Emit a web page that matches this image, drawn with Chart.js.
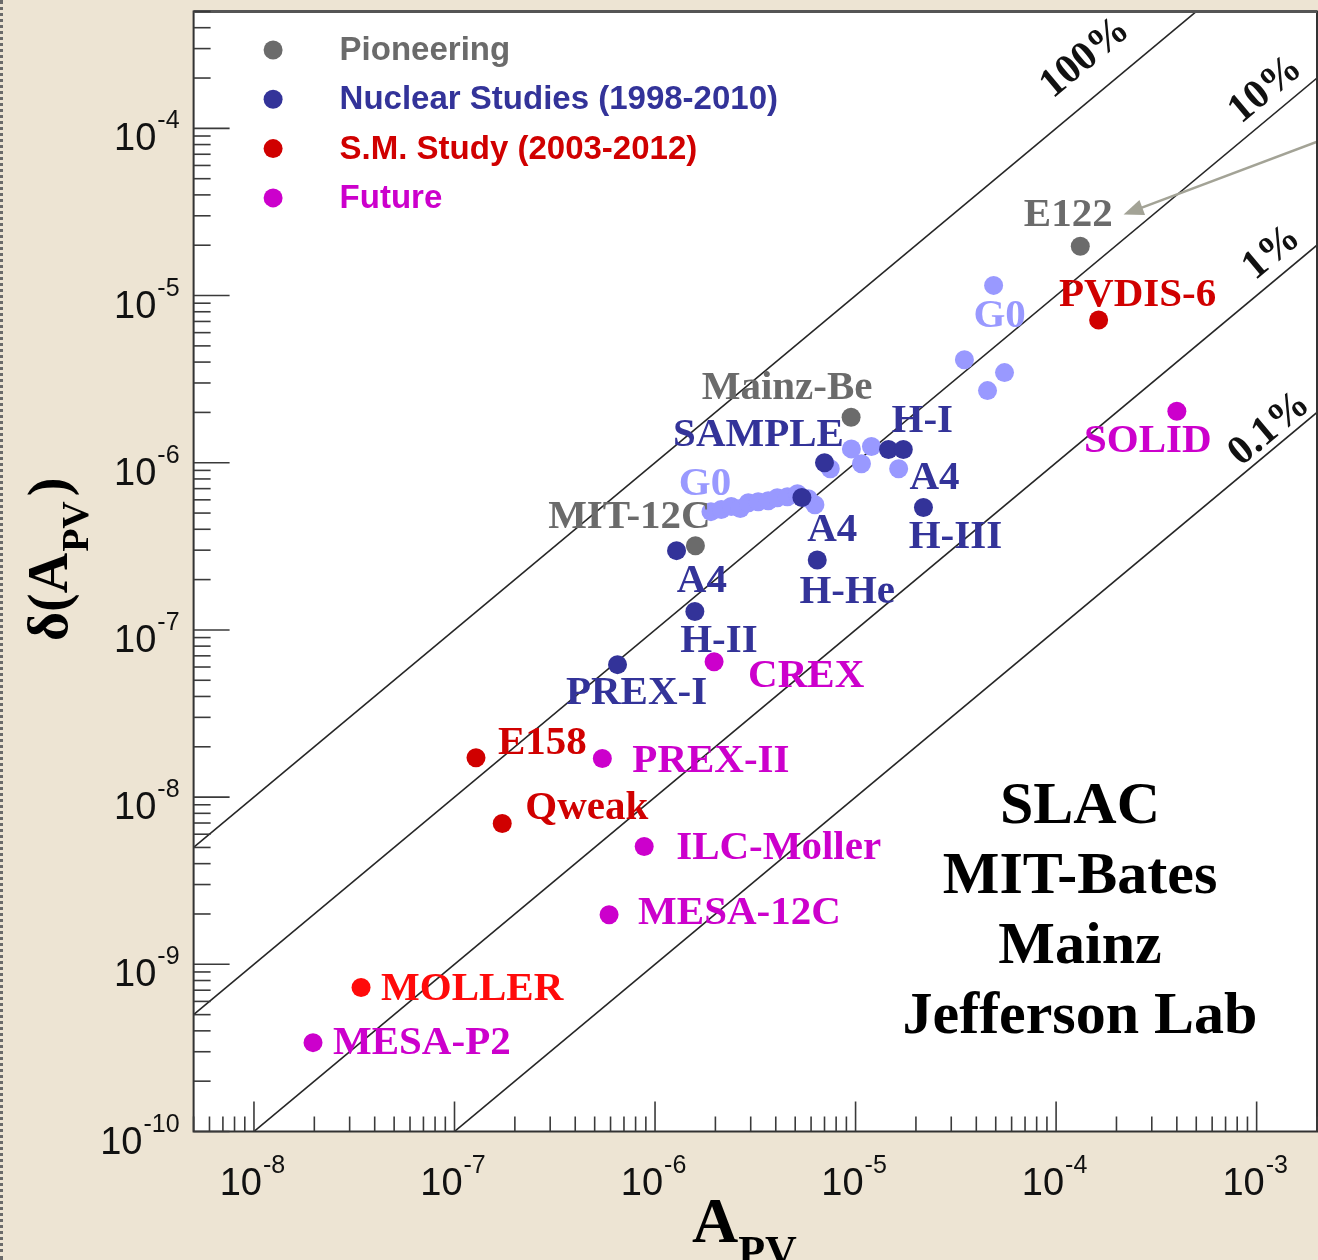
<!DOCTYPE html>
<html>
<head>
<meta charset="utf-8">
<title>Parity-violating asymmetry measurements</title>
<script src="https://cdn.jsdelivr.net/npm/chart.js@4.4.1/dist/chart.umd.min.js"></script>
<style>
  html, body { margin: 0; padding: 0; background: #ede4d3; }
  #wrap { position: relative; width: 1318px; height: 1260px; }
  #edge { position: absolute; left: 0; top: 0; width: 0; height: 1260px; border-left: 3px dotted #6a6a6a; }
  canvas { display: block; }
</style>
</head>
<body>
<div id="wrap">
  <canvas id="chart" width="1318" height="1260"></canvas>
  <div id="edge"></div>
</div>
<script>
// ===================== DATA =====================
const seriesLabels = ['Pioneering', 'Nuclear Studies (1998-2010)', 'S.M. Study (2003-2012)', 'Future'];

// Pioneering experiments: A_PV and delta(A_PV)
const pioneeringNames = ['E122', 'Mainz-Be', 'MIT-12C'];
const pioneeringApv   = [1.32e-4, 9.5e-6, 1.59e-6];
const pioneeringErr   = [1.97e-5, 1.87e-6, 3.19e-7];

// Nuclear studies (1998-2010)
const nuclearNames = ['SAMPLE', '', '', 'H-I', 'A4|H-III', 'A4|H-He', '', 'A4|H-II', 'PREX-I'];
const nuclearApv   = [7.0e-6, 5.4e-6, 1.46e-5, 1.73e-5, 2.18e-5, 6.44e-6, 1.28e-6, 1.58e-6, 6.5e-7];
const nuclearErr   = [1.0e-6, 6.2e-7, 1.2e-6, 1.2e-6, 5.4e-7, 2.62e-7, 2.98e-7, 1.29e-7, 6.2e-8];

// G0 measurements (part of the nuclear studies, drawn in light blue)
const g0Names = ['G0', '', '', '', '', '', '', '', '', '', '', '', '', '', '', '', '', '', '', '', 'G0'];
const g0Apv = [1.90e-6, 2.14e-6, 2.40e-6, 2.66e-6, 2.92e-6, 3.27e-6, 3.67e-6, 4.07e-6, 4.57e-6, 5.13e-6,
               5.81e-6, 6.27e-6, 7.48e-6, 9.53e-6, 1.07e-5, 1.20e-5, 1.64e-5, 3.49e-5, 4.55e-5, 5.53e-5, 4.88e-5];
const g0Err = [5.10e-7, 5.25e-7, 5.47e-7, 5.32e-7, 5.77e-7, 5.85e-7, 5.93e-7, 6.18e-7, 6.26e-7, 6.53e-7,
               6.10e-7, 5.61e-7, 9.20e-7, 1.21e-6, 9.86e-7, 1.25e-6, 9.20e-7, 4.13e-6, 2.70e-6, 3.46e-6, 1.15e-5];

// Standard Model studies (2003-2012)
const smNames = ['PVDIS-6', 'E158', 'Qweak', 'MOLLER'];
const smApv   = [1.63e-4, 1.28e-7, 1.73e-7, 3.42e-8];
const smErr   = [7.15e-6, 1.72e-8, 6.95e-9, 7.26e-10];

// Future experiments
const futureNames = ['SOLID', 'CREX', 'PREX-II', 'ILC-Moller', 'MESA-12C', 'MESA-P2'];
const futureApv   = [4.0e-4, 1.97e-6, 5.46e-7, 8.83e-7, 5.9e-7, 1.97e-8];
const futureErr   = [2.03e-6, 6.46e-8, 1.70e-8, 5.06e-9, 1.98e-9, 3.40e-10];

// Relative precision guide lines: delta(A) = fraction * A
const precisionFractions = [1, 0.1, 0.01, 0.001];
const precisionLabels    = ['100%', '10%', '1%', '0.1%'];
const precisionLabelApv  = [1.40e-4, 1.11e-3, 1.19e-3, 1.16e-3];

// Axis ranges
const apvMin = 5e-9, apvMax = 2e-3;
const errMin = 1e-10, errMax = 5e-4;

// Annotation: arrow pointing to E122 (data coordinates)
const arrowFrom = [2.0e-3, 8.4e-5];
const arrowTo   = [2.17e-4, 3.05e-5];

const labNames = ['SLAC', 'MIT-Bates', 'Mainz', 'Jefferson Lab'];

// ===================== STYLE / LAYOUT =====================
const C_GRAY = '#6b6b6b', C_BLUE = '#333399', C_LIGHT = '#9999ff', C_RED = '#d00000', C_RED2 = '#ff0a0a', C_MAG = '#cc00cc';
const SERIF = '"Liberation Serif", "Times New Roman", serif';
const SANS = '"Liberation Sans", Arial, Helvetica, sans-serif';

// label offsets in px relative to the marker [dx, dy, align]
const pioneeringLabelPos = [[[-12, -31, 'c']], [[-64, -29, 'c']], [[-66, -28, 'c']]];
const nuclearLabelPos = [[[-66, -27, 'c']], [], [], [[19, -28, 'c']], [[11, -29, 'c'], [32, 30, 'c']],
                         [[15, -30, 'c'], [30, 32, 'c']], [], [[7, -30, 'c'], [24, 30, 'c']], [[19, 29, 'c']]];
const g0LabelPos = g0Names.map((n, i) => i === 0 ? [[-6, -27, 'c']] : (i === 20 ? [[6, 31, 'c']] : []));
const smLabelPos = [[[39, -25, 'c']], [[22, -14, 'l']], [[23, -15, 'l']], [[20, 2, 'l']]];
const futureLabelPos = [[[-29, 30, 'c']], [[34, 15, 'l']], [[30, 3, 'l']], [[32, 2, 'l']], [[29, -1, 'l']], [[20, 1, 'l']]];
const precisionLabelLift = [46, 31, 30, 23];

const toPoints = (xs, ys) => xs.map((x, i) => ({ x: x, y: ys[i] }));

const scatterSets = [
  { label: seriesLabels[2], data: toPoints(smApv, smErr), names: smNames, labelPos: smLabelPos,
    colors: [C_RED, C_RED, C_RED, C_RED2], order: 1 },
  { label: seriesLabels[3], data: toPoints(futureApv, futureErr), names: futureNames, labelPos: futureLabelPos,
    colors: futureNames.map(() => C_MAG), order: 1 },
  { label: seriesLabels[1], data: toPoints(nuclearApv, nuclearErr), names: nuclearNames, labelPos: nuclearLabelPos,
    colors: nuclearNames.map(() => C_BLUE), order: 2 },
  { label: seriesLabels[0], data: toPoints(pioneeringApv, pioneeringErr), names: pioneeringNames, labelPos: pioneeringLabelPos,
    colors: pioneeringNames.map(() => C_GRAY), order: 3 },
  { label: 'G0', data: toPoints(g0Apv, g0Err), names: g0Names, labelPos: g0LabelPos,
    colors: g0Names.map(() => C_LIGHT), order: 5 }
];
const legendColors = [C_GRAY, C_BLUE, C_RED, C_MAG];

const datasets = [];
scatterSets.forEach(s => {
  datasets.push({
    type: 'scatter', label: s.label, data: s.data,
    pointRadius: 9.5, pointHoverRadius: 9.5, pointBorderWidth: 0,
    pointBackgroundColor: s.colors, backgroundColor: s.colors[0], borderColor: s.colors[0],
    order: s.order, _names: s.names, _labelPos: s.labelPos, _colors: s.colors
  });
});
precisionFractions.forEach((f, i) => {
  datasets.push({
    type: 'line', label: precisionLabels[i],
    data: [{ x: apvMin, y: f * apvMin }, { x: apvMax, y: f * apvMax }],
    borderColor: '#262626', borderWidth: 1.6, pointRadius: 0, fill: false, tension: 0,
    order: 10, _precision: i
  });
});

function drawSupLabel(ctx, x, y, exp, mode) {
  // draws 10^exp ; mode 'center' : x is center, 'right' : x is right edge ; y = baseline of "10"
  const big = '38px ' + SANS, small = '25px ' + SANS;
  ctx.font = big; const w1 = ctx.measureText('10').width;
  ctx.font = small; const sup = String(exp); const w2 = ctx.measureText(sup).width;
  let x0;
  if (mode === 'center') { x0 = x - (w1 + w2) / 2 - 2; }
  else { x0 = x - (w1 + w2 + 1); }
  ctx.textAlign = 'left'; ctx.textBaseline = 'alphabetic'; ctx.fillStyle = '#111';
  ctx.font = big; ctx.fillText('10', x0, y);
  ctx.font = small; ctx.fillText(sup, x0 + w1 + 1, y - 22);
}

const decorPlugin = {
  id: 'decor',
  beforeDraw(chart) {
    const { ctx, chartArea: a } = chart;
    ctx.save();
    ctx.fillStyle = '#ffffff';
    ctx.fillRect(a.left, a.top, a.right - a.left, a.bottom - a.top);
    ctx.restore();
  },
  afterDatasetsDraw(chart) {
    const { ctx, chartArea: a, scales } = chart;
    const xs = scales.x, ys = scales.y;
    ctx.save();

    // ---- precision line labels ----
    chart.data.datasets.forEach((ds) => {
      if (ds._precision === undefined) return;
      const i = ds._precision, f = precisionFractions[i];
      const A = precisionLabelApv[i];
      const px = xs.getPixelForValue(A), py = ys.getPixelForValue(f * A);
      const p1x = xs.getPixelForValue(apvMin), p1y = ys.getPixelForValue(f * apvMin);
      const p2x = xs.getPixelForValue(apvMax), p2y = ys.getPixelForValue(f * apvMax);
      const ang = Math.atan2(p2y - p1y, p2x - p1x);
      ctx.save();
      ctx.translate(px, py - precisionLabelLift[i]);
      ctx.rotate(ang);
      ctx.font = 'bold 41px ' + SERIF;
      ctx.fillStyle = '#111';
      ctx.textAlign = 'center'; ctx.textBaseline = 'middle';
      ctx.fillText(precisionLabels[i], 0, 0);
      ctx.restore();
    });

    // ---- point labels ----
    ctx.font = 'bold 41px ' + SERIF;
    ctx.textBaseline = 'middle';
    chart.data.datasets.forEach((ds, di) => {
      if (!ds._names) return;
      const meta = chart.getDatasetMeta(di);
      ds._names.forEach((name, i) => {
        if (!name) return;
        const parts = name.split('|');
        const pos = ds._labelPos[i] || [];
        const el = meta.data[i];
        parts.forEach((t, k) => {
          const p = pos[k]; if (!p) return;
          ctx.fillStyle = ds._colors[i];
          ctx.textAlign = p[2] === 'l' ? 'left' : 'center';
          ctx.fillText(t, el.x + p[0], el.y + p[1]);
        });
      });
    });

    // ---- arrow to E122 ----
    const ax1 = xs.getPixelForValue(arrowFrom[0]) + 2, ay1 = ys.getPixelForValue(arrowFrom[1]);
    const ax2 = xs.getPixelForValue(arrowTo[0]), ay2 = ys.getPixelForValue(arrowTo[1]);
    const aa = Math.atan2(ay2 - ay1, ax2 - ax1);
    ctx.strokeStyle = '#a3a396'; ctx.fillStyle = '#a3a396'; ctx.lineWidth = 2.5;
    ctx.beginPath(); ctx.moveTo(ax1, ay1);
    ctx.lineTo(ax2 - 16 * Math.cos(aa), ay2 - 16 * Math.sin(aa)); ctx.stroke();
    ctx.beginPath(); ctx.moveTo(ax2, ay2);
    ctx.lineTo(ax2 - 20 * Math.cos(aa) + 8 * Math.sin(aa), ay2 - 20 * Math.sin(aa) - 8 * Math.cos(aa));
    ctx.lineTo(ax2 - 20 * Math.cos(aa) - 8 * Math.sin(aa), ay2 - 20 * Math.sin(aa) + 8 * Math.cos(aa));
    ctx.closePath(); ctx.fill();

    // ---- legend (inside plot) ----
    ctx.font = 'bold 33px ' + SANS;
    ctx.textAlign = 'left'; ctx.textBaseline = 'middle';
    seriesLabels.forEach((lab, i) => {
      const cy = a.top + 38.5 + i * 49.3;
      ctx.fillStyle = legendColors[i];
      ctx.beginPath(); ctx.arc(a.left + 79.5, cy, 9.5, 0, Math.PI * 2); ctx.fill();
      ctx.fillText(lab, a.left + 146, cy + 1);
    });

    // ---- laboratories text ----
    ctx.fillStyle = '#000'; ctx.font = 'bold 60px ' + SERIF;
    ctx.textAlign = 'center'; ctx.textBaseline = 'alphabetic';
    labNames.forEach((t, i) => ctx.fillText(t, 1080, 823 + i * 70));

    // ---- frame ----
    ctx.strokeStyle = '#333'; ctx.lineWidth = 2;
    ctx.strokeRect(a.left, a.top, a.right - a.left, a.bottom - a.top);
    ctx.strokeStyle = '#555'; ctx.lineWidth = 3;
    ctx.beginPath(); ctx.moveTo(a.left, a.top); ctx.lineTo(a.right, a.top); ctx.stroke();

    // ---- inward ticks and tick labels ----
    ctx.strokeStyle = '#3a3a3a'; ctx.lineWidth = 1.6;
    const tickVals = (mn, mx) => {
      const out = [];
      for (let e = Math.floor(Math.log10(mn)); e <= Math.ceil(Math.log10(mx)); e++) {
        for (let m = 1; m <= 9; m++) {
          const v = m * Math.pow(10, e);
          if (v >= mn * 0.9999 && v <= mx * 1.0001) out.push({ v: v, major: m === 1, e: e });
        }
      }
      return out;
    };
    tickVals(xs.min, xs.max).forEach(t => {
      const x = xs.getPixelForValue(t.v);
      ctx.beginPath(); ctx.moveTo(x, a.bottom); ctx.lineTo(x, a.bottom - (t.major ? 30 : 15)); ctx.stroke();
      if (t.major) drawSupLabel(ctx, x, a.bottom + 63.5, t.e, 'center');
    });
    tickVals(ys.min, ys.max).forEach(t => {
      const y = ys.getPixelForValue(t.v);
      ctx.beginPath(); ctx.moveTo(a.left, y); ctx.lineTo(a.left + (t.major ? 36 : 17), y); ctx.stroke();
      if (t.major) drawSupLabel(ctx, a.left - 14, y + 22, t.e, 'right');
    });

    // ---- axis titles ----
    ctx.fillStyle = '#000'; ctx.textAlign = 'left'; ctx.textBaseline = 'alphabetic';
    // x title: A_PV
    ctx.font = 'bold 64px ' + SERIF;
    const wA = ctx.measureText('A').width;
    ctx.fillText('A', 692, 1242);
    ctx.font = 'bold 44px ' + SERIF;
    ctx.fillText('PV', 692 + wA, 1266);
    // y title: δ(A_PV)
    ctx.save();
    ctx.translate(67, 641);
    ctx.rotate(-Math.PI / 2);
    ctx.font = 'bold 56px ' + SERIF;
    const w1 = ctx.measureText('δ(A').width;
    ctx.fillText('δ(A', 0, 0);
    ctx.font = 'bold 38px ' + SERIF;
    const w2 = ctx.measureText('PV').width;
    ctx.fillText('PV', w1 + 1, 21);
    ctx.font = 'bold 56px ' + SERIF;
    ctx.fillText(')', w1 + w2 + 6, 0);
    ctx.restore();

    ctx.restore();
  }
};

new Chart(document.getElementById('chart'), {
  type: 'scatter',
  data: { datasets: datasets },
  options: {
    responsive: false,
    animation: false,
    events: [],
    layout: { autoPadding: false, padding: { top: 11.5, right: 1, left: 0, bottom: 0 } },
    plugins: { legend: { display: false }, tooltip: { enabled: false } },
    scales: {
      x: {
        type: 'logarithmic', position: 'bottom', min: apvMin, max: apvMax,
        ticks: { display: false }, grid: { display: false, drawTicks: false }, border: { display: false },
        afterFit(scale) { scale.height = 128.5; }
      },
      y: {
        type: 'logarithmic', position: 'left', min: errMin, max: errMax,
        ticks: { display: false }, grid: { display: false, drawTicks: false }, border: { display: false },
        afterFit(scale) { scale.width = 193.6; }
      }
    }
  },
  plugins: [decorPlugin]
});
</script>
</body>
</html>
